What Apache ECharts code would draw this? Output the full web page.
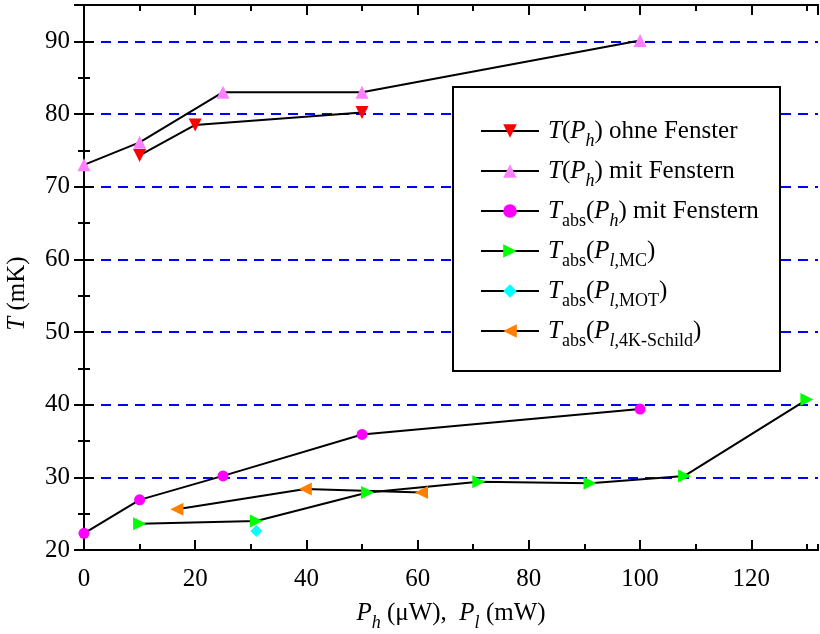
<!DOCTYPE html>
<html>
<head>
<meta charset="utf-8">
<script src="https://cdn.jsdelivr.net/npm/echarts@6/dist/echarts.min.js"></script>
<style>html,body{margin:0;padding:0;background:#fff}#c{width:820px;height:634px}</style>
</head>
<body>
<div id="c"></div>
<script>
// ---- data ----
const redX = [10, 20, 50];
const redY = [74.3, 78.5, 80.2];
const pinkX = [0, 10, 25, 50, 100];
const pinkY = [73.0, 76.1, 83.0, 83.0, 90.1];
const magX = [0, 10, 25, 50, 100];
const magY = [22.3, 26.9, 30.2, 35.9, 39.4];
const greenX = [10, 31, 51, 71, 91, 108, 130];
const greenY = [23.6, 24.0, 27.9, 29.4, 29.2, 30.2, 40.7];
const cyanX = [31];
const cyanY = [22.6];
const orangeX = [16.7, 39.8, 60.7];
const orangeY = [25.6, 28.4, 27.9];
const seriesNames = ['redT', 'pinkT', 'magT', 'greenT', 'cyanT', 'orangeT'];
const legendLabels = [
  '{i|T}{n|(}{i|P}{subi|h}{n|) ohne Fenster}',
  '{i|T}{n|(}{i|P}{subi|h}{n|) mit Fenstern}',
  '{i|T}{sub|abs}{n|(}{i|P}{subi|h}{n|) mit Fenstern}',
  '{i|T}{sub|abs}{n|(}{i|P}{subi|l}{sub|,MC}{n|)}',
  '{i|T}{sub|abs}{n|(}{i|P}{subi|l}{sub|,MOT}{n|)}',
  '{i|T}{sub|abs}{n|(}{i|P}{subi|l}{sub|,4K-Schild}{n|)}'
];
const xTitle = '{i|P}{subi|h}{n| (μW),  }{i|P}{subi|l}{n| (mW)}';
const yTitle = '{i|T}{n| (mK)}';
const xMin = 0, xMax = 132, yMin = 20, yMax = 95;

const FF = '"Liberation Serif","Times New Roman",serif';
function rich(size, sub, lh, drop) {
  return {
    n: {fontFamily: FF, fontSize: size, color: '#000', lineHeight: lh},
    i: {fontFamily: FF, fontSize: size, fontStyle: 'italic', color: '#000', lineHeight: lh},
    sub: {fontFamily: FF, fontSize: sub, color: '#000', lineHeight: 6, verticalAlign: 'top', padding: [drop, 0, 0, 0]},
    subi: {fontFamily: FF, fontSize: sub, fontStyle: 'italic', color: '#000', lineHeight: 6, verticalAlign: 'top', padding: [drop, 0, 0, 0]}
  };
}
function pts(xs, ys) { return xs.map((x, k) => [x, ys[k]]); }

const chart = echarts.init(document.getElementById('c'), null, {renderer: 'canvas'});
const grid = {left: 84, right: 2, top: 5, bottom: 84, outerBoundsMode: 'none', containLabel: false};
const axisLine = {show: true, lineStyle: {color: '#000', width: 2}};
const labelStyle = {fontFamily: FF, fontSize: 25, color: '#000'};

function xAx(pos, interval, tickLen, withLabel, extra) {
  return Object.assign({
    type: 'value', position: pos, min: xMin, max: xMax, interval: interval,
    axisLine: axisLine,
    axisTick: {show: true, inside: true, length: tickLen, lineStyle: {color: '#000', width: 2}},
    axisLabel: withLabel ? Object.assign({show: true, margin: 17, showMaxLabel: false}, labelStyle) : {show: false},
    splitLine: {show: false}
  }, extra || {});
}
function yAx(pos, interval, tickLen, withLabel, extra) {
  return Object.assign({
    type: 'value', position: pos, min: yMin, max: yMax, interval: interval,
    axisLine: axisLine,
    axisTick: {show: true, inside: true, length: tickLen, lineStyle: {color: '#000', width: 2}},
    axisLabel: withLabel ? Object.assign({show: true, margin: 14, showMaxLabel: false}, labelStyle) : {show: false},
    splitLine: {show: false}
  }, extra || {});
}

const lineStyle = {color: '#000', width: 2};
function mkSeries(name, data, symbol, rot, color, size) {
  return {
    name: name, type: 'line', data: data, symbol: symbol, symbolRotate: rot,
    symbolSize: size, showSymbol: true, animation: false,
    lineStyle: lineStyle, itemStyle: {color: color, borderWidth: 0}, z: 5
  };
}

const option = {
  animation: false,
  grid: grid,
  xAxis: [
    xAx('bottom', 20, 10, true, {
      name: xTitle, nameLocation: 'middle', nameGap: 48,
      nameTextStyle: {rich: rich(25, 18, 30, 16)}
    }),
    xAx('top', 20, 10, false),
    xAx('bottom', 10, 6, false),
    xAx('top', 10, 6, false)
  ],
  yAxis: [
    yAx('left', 10, 10, true, {
      name: yTitle, nameLocation: 'middle', nameGap: 52, nameRotate: 90,
      nameTextStyle: {rich: rich(25, 18, 30, 16), padding: [0, 32, 0, 0]},
      splitLine: {show: true, showMinLine: false, showMaxLine: false,
        lineStyle: {color: '#0000ff', width: 2, type: [10, 7]}}
    }),
    yAx('right', 10, 10, false),
    yAx('left', 5, 6, false),
    yAx('right', 5, 6, false)
  ],
  graphic: [{
    type: 'rect', z: 3,
    shape: {x: 453, y: 87, width: 327, height: 284},
    style: {fill: '#fff', stroke: '#000', lineWidth: 2}
  }],
  legend: {
    show: true, orient: 'vertical', left: 475, top: 111,
    itemWidth: 58, itemHeight: 17, itemGap: 6, z: 6,
    data: seriesNames,
    formatter: function (name) { return legendLabels[seriesNames.indexOf(name)]; },
    textStyle: {rich: rich(25, 18, 30, 16), padding: [0, 0, 0, 4]},
    selectedMode: false
  },
  series: [
    mkSeries(seriesNames[0], pts(redX, redY), 'triangle', 180, '#ff0000', 13),
    mkSeries(seriesNames[1], pts(pinkX, pinkY), 'triangle', 0, '#ff80ff', 13),
    mkSeries(seriesNames[2], pts(magX, magY), 'circle', 0, '#ff00ff', 11),
    mkSeries(seriesNames[3], pts(greenX, greenY), 'triangle', -90, '#00ff00', 13),
    mkSeries(seriesNames[4], pts(cyanX, cyanY), 'diamond', 0, '#00ffff', 12),
    mkSeries(seriesNames[5], pts(orangeX, orangeY), 'triangle', 90, '#ff8000', 13)
  ]
};
chart.setOption(option);
</script>
</body>
</html>
